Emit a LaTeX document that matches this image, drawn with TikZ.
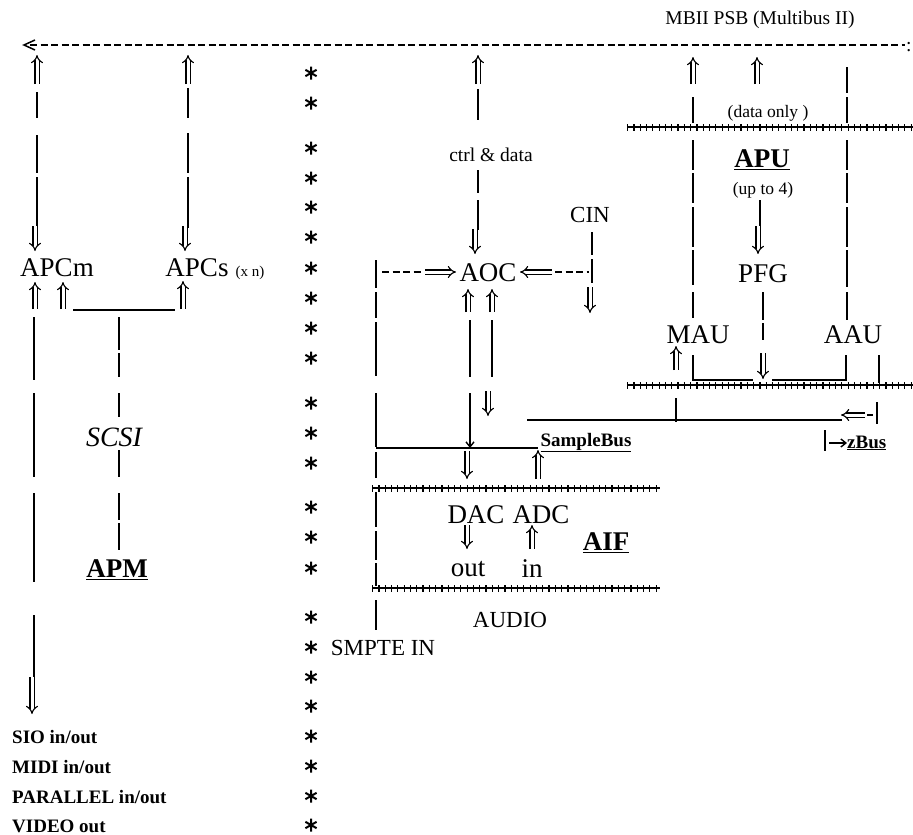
\documentclass[tikz,border=0pt]{standalone}
\usepackage{fontspec}
\setmainfont{Liberation Serif}
\usetikzlibrary{arrows.meta}
\newcommand\myvseg[2]{\foreach \a/\b in {#2} {\draw[vl] (#1,\a)--(#1,\b);}}
\begin{document}
\begin{tikzpicture}[x=1pt,y=-1pt,
  big/.style={font=\fontsize{27}{30}\selectfont,inner sep=0pt},
  bigb/.style={font=\fontsize{27}{30}\selectfont\bfseries,inner sep=0pt},
  med/.style={font=\fontsize{23}{26}\selectfont,inner sep=0pt},
  sm/.style={font=\fontsize{19.5}{22}\selectfont,inner sep=0pt},
  smb/.style={font=\fontsize{19}{22}\selectfont\bfseries,inner sep=0pt},
  tiny/.style={font=\fontsize{17.5}{20}\selectfont,inner sep=0pt},
  vl/.style={line width=1.8pt},
  hl/.style={line width=1.6pt},
  dbus/.style={line width=1.6pt,dash pattern=on 7pt off 3.5pt},
  dar/.style={double,double distance=3pt,line width=1.15pt,-{Implies}},
  sar/.style={line width=1.4pt,-{Straight Barb[length=5pt,width=8pt]}},
  plusbus/.style={line width=1.1pt},
  ticks/.style={line width=7pt,dash pattern=on 1.2pt off 5.1pt},
  star6/.pic={\draw[line width=2pt] (0,-6.5)--(0,6.5) (-5.6,-3.2)--(5.6,3.2) (-5.6,3.2)--(5.6,-3.2);}
]
\fill[white] (0,0) rectangle (913,835);
\useasboundingbox (0,0) rectangle (913,835);

% ---- top bus
\node[sm] (mbii) at (760,20) {MBII PSB (Multibus II)};
\coordinate (busL) at (30,45);
\coordinate (busR) at (905,45);
\draw[dbus] (busL)--(busR);
\draw[line width=1.5pt] (35,40)--(24,45)--(35,50);
\node[sm,anchor=west] (colon) at (906,47) {:};

% ---- stars
\foreach \y in {73,103,148,178,207,237,268,298,328,358,403,433,463,507,537,568,617,647,677,706,736,766,796,825}
  \pic at (311,\y) {star6};

% ---- APCm column
\draw[dar] (37,84)--(37,55);
\myvseg{37}{92/118,135/173,177/228}
\draw[dar] (35,226)--(35,251);
\node[big] (apcm) at (57,268) {APCm};
\draw[dar] (35,309)--(35,282);
\draw[dar] (63,309)--(63,282);
\draw[hl] (73,310)--(175,310);
\myvseg{34}{317/380,393/477,493/582,615/678}
\draw[dar] (32,677)--(32,714);

% ---- APCs column
\draw[dar] (188,84)--(188,55);
\myvseg{188}{88/118,133/173,177/228}
\draw[dar] (185,226)--(185,251);
\node[big] (apcs) at (197,268) {APCs};
\node[font=\fontsize{15}{17}\selectfont,inner sep=0pt] (xn) at (250,273) {(x n)};
\draw[dar] (183,309)--(183,281);

% ---- SCSI / APM
\myvseg{119}{317/350,353/377,393/417,450/477,493/520,523/550}
\node[font=\fontsize{28}{30}\selectfont\itshape,inner sep=0pt] (scsi) at (114,437) {SCSI};
\node[bigb] (apm) at (117,570) {\underline{APM}};

% ---- left labels
\node[smb,anchor=west] (sio) at (12,737) {SIO in/out};
\node[smb,anchor=west] (midi) at (12,767) {MIDI in/out};
\node[smb,anchor=west] (par) at (12,797) {PARALLEL in/out};
\node[smb,anchor=west] (video) at (12,826) {VIDEO out};

% ---- AOC column
\draw[dar] (478,84)--(478,55);
\myvseg{478}{89/120,170/193,200/230}
\node[sm] (ctrl) at (491,155) {ctrl \& data};
\draw[dar] (475,229)--(475,254);
\node[med] (cin) at (590,215) {CIN};
\myvseg{592}{232/255,259/283}
\draw[dar] (590,287)--(590,313);
\node[big] (aoc) at (488,273) {AOC};
\draw[dbus] (382,272)--(421,272);
\draw[dar] (425,272)--(456,272);
\draw[dar] (552,272)--(520,272);
\draw[dbus] (555,272)--(589,272);
\draw[dar] (468,312)--(468,289);
\draw[dar] (492,312)--(492,289);
\myvseg{470}{320/377}
\draw[sar] (470,393)--(470,448);
\myvseg{492}{320/377}
\draw[dar] (488,391)--(488,416);
\draw[dar] (467,451)--(467,479);
\draw[dar] (538,479)--(538,450);

% left vertical of AIF
\myvseg{376}{260/288,292/318,322/376,393/447,452/478,492/527,531/560,563/586,600/630}

% SampleBus
\draw[hl] (376,448)--(538,448);
\node[smb,anchor=base] (sbus) at (586,446) {\underline{SampleBus}};

% AIF buses
\draw[plusbus] (372,488)--(660,488);
\draw[ticks] (372,488)--(660,488);
\draw[plusbus] (372,588)--(660,588);
\draw[ticks] (372,588)--(660,588);
\node[big] (dac) at (476,515) {DAC};
\node[big] (adc) at (541,515) {ADC};
\draw[dar] (467,525)--(467,549);
\draw[dar] (532,549)--(532,525);
\node[bigb] (aif) at (606,543) {\underline{AIF}};
\node[big] (out) at (468,569) {out};
\node[big] (in) at (532,569) {in};
\node[med] (audio) at (510,620) {AUDIO};
\node[med] (smpte) at (383,648) {SMPTE IN};

% ---- APU
\draw[dar] (693,84)--(693,57);
\draw[dar] (757,84)--(757,57);
\myvseg{693}{97/123}
\myvseg{847}{67/93,97/123}
\node[tiny] (donly) at (768,113) {(data only )};
\draw[plusbus] (627,127)--(913,127);
\draw[ticks] (627,127)--(913,127);
\node[bigb] (apu) at (762,160) {\underline{APU}};
\node[tiny] (upto) at (763,190) {(up to 4)};
\myvseg{693}{140/170,173/203,207/247,250/285,292/318}
\myvseg{847}{140/170,173/203,207/247,250/287,292/320}
\myvseg{760}{200/228}
\draw[dar] (758,226)--(758,254);
\node[big] (pfg) at (763,274) {PFG};
\myvseg{763}{292/320,323/340}
\draw[dar] (763,353)--(763,379);
\node[big] (mau) at (698,335) {MAU};
\node[big] (aau) at (853,335) {AAU};
\draw[dar] (676,370)--(676,346);
\draw[vl] (693,355)--(693,380)--(753,380);
\draw[vl] (772,380)--(846,380)--(846,355);
\myvseg{879}{355/383}
\draw[plusbus] (627,385)--(913,385);
\draw[ticks] (627,385)--(913,385);
\myvseg{676}{398/422}
\draw[hl] (527,420)--(842,420);
\draw[dar] (865,415)--(841,415);
\draw[hl] (867,415)--(873,415);
\myvseg{877}{402/424}
\myvseg{825}{430/451}
\draw[sar] (829,443)--(847,443);
\node[smb,anchor=base west] (zbus) at (847,448) {\underline{zBus}};
\end{tikzpicture}
\end{document}
